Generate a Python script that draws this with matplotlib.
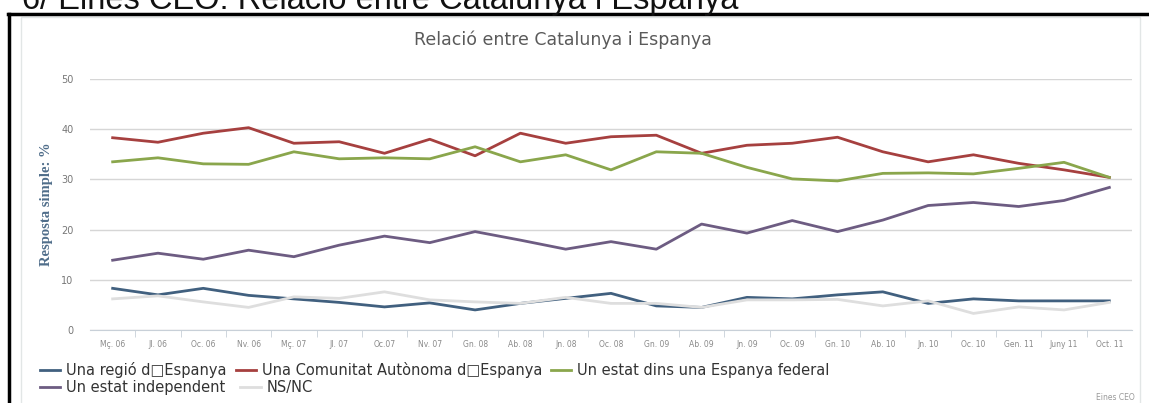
import matplotlib
matplotlib.use("Agg")
import matplotlib.pyplot as plt
from matplotlib.lines import Line2D
from matplotlib.patches import Rectangle

# categories (survey waves)
waves = ["Mç. 06", "Jl. 06", "Oc. 06", "Nv. 06", "Mç. 07", "Jl. 07", "Oc.07",
         "Nv. 07", "Gn. 08", "Ab. 08", "Jn. 08", "Oc. 08", "Gn. 09", "Ab. 09",
         "Jn. 09", "Oc. 09", "Gn. 10", "Ab. 10", "Jn. 10", "Oc. 10", "Gen. 11",
         "Juny 11", "Oct. 11"]

regio = [8.3, 7.0, 8.3, 6.9, 6.2, 5.5, 4.6, 5.4, 4.0, 5.3, 6.3, 7.3, 4.8, 4.5,
         6.5, 6.2, 7.0, 7.6, 5.3, 6.2, 5.8, 5.8, 5.8]
comunitat = [38.3, 37.4, 39.2, 40.3, 37.2, 37.5, 35.2, 38.0, 34.7, 39.2, 37.2,
             38.5, 38.8, 35.2, 36.8, 37.2, 38.4, 35.5, 33.5, 34.9, 33.2, 31.9, 30.4]
federal = [33.5, 34.3, 33.1, 33.0, 35.5, 34.1, 34.3, 34.1, 36.5, 33.5, 34.9,
           31.9, 35.5, 35.2, 32.4, 30.1, 29.7, 31.2, 31.3, 31.1, 32.2, 33.4, 30.4]
independent = [13.9, 15.3, 14.1, 15.9, 14.6, 16.9, 18.7, 17.4, 19.6, 17.9, 16.1,
               17.6, 16.1, 21.1, 19.3, 21.8, 19.6, 21.9, 24.8, 25.4, 24.6, 25.8, 28.4]
nsnc = [6.2, 6.8, 5.6, 4.5, 6.6, 6.3, 7.6, 6.0, 5.6, 5.3, 6.5, 5.3, 5.3, 4.5,
        6.0, 6.0, 6.1, 4.8, 5.8, 3.3, 4.6, 4.0, 5.5]

names = ["Una regió d\u25a1Espanya", "Una Comunitat Autònoma d\u25a1Espanya",
         "Un estat dins una Espanya federal", "Un estat independent", "NS/NC"]
colors = ["#41607f", "#a6403f", "#8aa64c", "#6d5c82", "#dedede"]

W, H = 1149, 403
fig = plt.figure(figsize=(W / 100, H / 100), dpi=100)

# page header, its top is cut by the image edge as in the source
fig.text(22 / W, 1 - 9 / H, "6/ Eines CEO: Relació entre Catalunya i Espanya",
         fontsize=23.5, family="Liberation Sans", color="#111111", va="baseline")

# black frame and chart panel
fig.add_artist(Line2D([8 / W, 1], [1 - 14 / H, 1 - 14 / H], color="black", lw=2.5))
fig.add_artist(Line2D([9 / W, 9 / W], [0, 1 - 14 / H], color="black", lw=2.5))
fig.add_artist(Rectangle((21 / W, -0.01), (1140 - 21) / W, 1 - 17 / H + 0.01,
                         transform=fig.transFigure, fill=False, ec="#e2e6e6", lw=1))

ax = fig.add_axes([90 / W, 1 - 330 / H, (1132 - 90) / W, (330 - 79) / H])
x = list(range(len(waves)))
series = [regio, comunitat, federal, independent, nsnc]
handles = []
for vals, name, c in zip(series, names, colors):
    h, = ax.plot(x, vals, color=c, lw=2, label=name, solid_joinstyle="round")
    handles.append(h)

ax.set_xlim(-0.5, len(waves) - 0.5)
ax.set_ylim(0, 50)
ax.set_yticks([0, 10, 20, 30, 40, 50])
ax.set_xticks(x)
ax.set_xticklabels(waves, fontsize=5.5, color="#8a8a8a")
ax.set_xticks([i + 0.5 for i in x[:-1]], minor=True)
ax.tick_params(axis="x", which="major", length=0, pad=7)
ax.tick_params(axis="x", which="minor", length=5, color="#c8d0d8", direction="out")
ax.tick_params(axis="y", length=0, labelsize=7, labelcolor="#777777", pad=12)
ax.grid(axis="y", color="#d6d6d6", lw=1)
ax.set_axisbelow(True)
for s in ["top", "right", "left"]:
    ax.spines[s].set_visible(False)
ax.spines["bottom"].set_color("#c8d0d8")

ax.set_ylabel("Resposta simple: %", family="Liberation Serif", fontweight="bold",
              fontsize=10.5, color="#4f6d8a", labelpad=6)
fig.text(563 / W, 1 - 40 / H, "Relació entre Catalunya i Espanya", fontsize=12.5,
         color="#5a5a5a", ha="center", va="center")

leg_font = dict(family=["Liberation Sans Narrow", "DejaVu Sans"], size=10.5)
leg1 = fig.legend(handles[:3], names[:3], loc="upper left", ncol=3, frameon=False,
                  bbox_to_anchor=(40 / W, 1 - 362 / H), prop=leg_font,
                  handlelength=1.4, handletextpad=0.4, columnspacing=0.6,
                  labelcolor="#333333", borderaxespad=0, borderpad=0)
leg2 = fig.legend(handles[3:], names[3:], loc="upper left", ncol=2, frameon=False,
                  bbox_to_anchor=(40 / W, 1 - 380 / H), prop=leg_font,
                  handlelength=1.4, handletextpad=0.4, columnspacing=1.0,
                  labelcolor="#333333", borderaxespad=0, borderpad=0)

fig.text(1135 / W, 1 - 397 / H, "Eines CEO", fontsize=5.5, color="#999999",
         ha="right", va="center")

fig.savefig("out.png", dpi=100)
